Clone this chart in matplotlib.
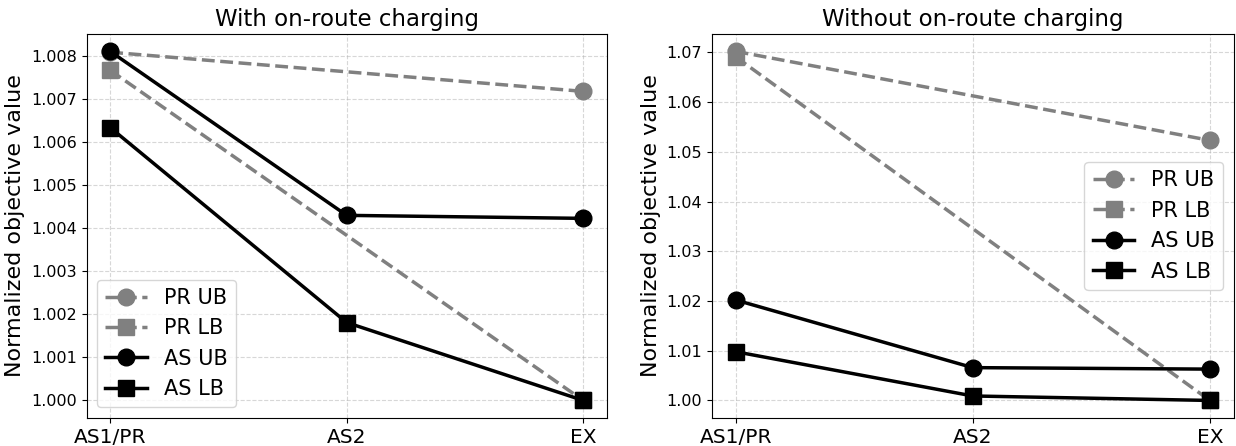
import matplotlib.pyplot as plt
import numpy as np

methods = ['AS1/PR', 'AS2', 'EX']
pr_idx = [0, 2]          # PR bounds exist only for AS1/PR and EX
as_idx = [0, 1, 2]

# With on-route charging
with_pr_ub = [1.00809, 1.00718]
with_pr_lb = [1.00767, 1.00000]
with_as_ub = [1.00811, 1.00430, 1.00423]
with_as_lb = [1.00634, 1.00181, 1.00000]

# Without on-route charging
wo_pr_ub = [1.0702, 1.0523]
wo_pr_lb = [1.0691, 1.0000]
wo_as_ub = [1.0202, 1.0066, 1.0063]
wo_as_lb = [1.0098, 1.0009, 1.0000]


def draw_panel(ax, title, pr_ub, pr_lb, as_ub, as_lb, legend_loc):
    ax.plot(pr_idx, pr_ub, '--o', color='gray', linewidth=2.5, markersize=12, label='PR UB')
    ax.plot(pr_idx, pr_lb, '--s', color='gray', linewidth=2.5, markersize=12, label='PR LB')
    ax.plot(as_idx, as_ub, '-o', color='black', linewidth=2.5, markersize=12, label='AS UB')
    ax.plot(as_idx, as_lb, '-s', color='black', linewidth=2.5, markersize=12, label='AS LB')
    ax.set_xticks(as_idx)
    ax.set_xticklabels(methods, fontsize=14.5)
    ax.tick_params(axis='y', labelsize=11.5)
    ax.set_ylabel('Normalized objective value', fontsize=16)
    ax.set_title(title, fontsize=16.5)
    ax.grid(True, linestyle='--', alpha=0.5)
    ax.legend(loc=legend_loc, fontsize=15)


fig = plt.figure(figsize=(12.36, 4.46), dpi=100)
ax1 = fig.add_axes([0.070, 0.063, 0.421, 0.861])
ax2 = fig.add_axes([0.576, 0.063, 0.422, 0.861])

draw_panel(ax1, 'With on-route charging', with_pr_ub, with_pr_lb, with_as_ub, with_as_lb, 'lower left')
draw_panel(ax2, 'Without on-route charging', wo_pr_ub, wo_pr_lb, wo_as_ub, wo_as_lb, 'center right')

fig.savefig('out.png', dpi=100)
